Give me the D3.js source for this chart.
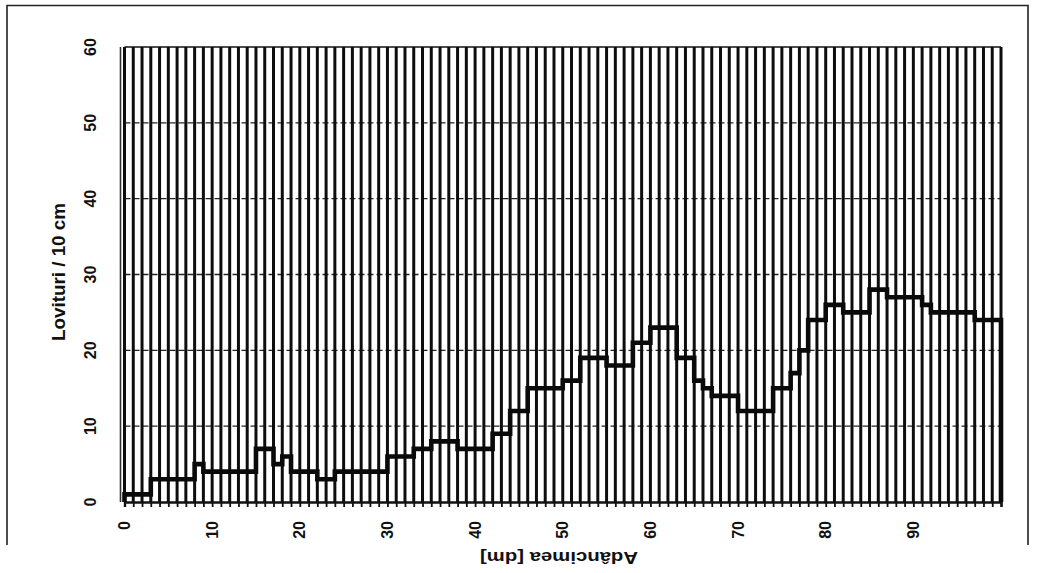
<!DOCTYPE html>
<html>
<head>
<meta charset="utf-8">
<script src="https://cdn.jsdelivr.net/npm/d3@7"></script>
<style>
  html, body { margin: 0; padding: 0; background: #fff; }
  svg { display: block; }
  text { font-family: "Liberation Sans", Arial, sans-serif; font-weight: bold; fill: #111; }
</style>
</head>
<body>
<svg id="chart" width="1037" height="573"></svg>
<script>
// Depth in dm (start of each 1-dm interval)
const depths = d3.range(0, 100);
// Blows per 10 cm for each interval
const blows = [
  1, 1, 1, 3, 3, 3, 3, 3, 5, 4,
  4, 4, 4, 4, 4, 7, 7, 5, 6, 4,
  4, 4, 3, 3, 4, 4, 4, 4, 4, 4,
  6, 6, 6, 7, 7, 8, 8, 8, 7, 7,
  7, 7, 9, 9, 12, 12, 15, 15, 15, 15,
  16, 16, 19, 19, 19, 18, 18, 18, 21, 21,
  23, 23, 23, 19, 19, 16, 15, 14, 14, 14,
  12, 12, 12, 12, 15, 15, 17, 20, 24, 24,
  26, 26, 25, 25, 25, 28, 28, 27, 27, 27,
  27, 26, 25, 25, 25, 25, 25, 24, 24, 24
];
const xTickLabels = [0, 10, 20, 30, 40, 50, 60, 70, 80, 90];
const yTickLabels = [0, 10, 20, 30, 40, 50, 60];
const xTitle = "Adâncimea [dm]";
const yTitle = "Lovituri / 10 cm";

const svg = d3.select("#chart");
const x = d3.scaleLinear().domain([0, 100]).range([124.5, 1001]);
const y = d3.scaleLinear().domain([0, 60]).range([502, 47]);

// outer frame (top, left, right)
svg.append("path")
  .attr("d", "M7,545 L7,5.5 L1028,5.5 L1028,545")
  .attr("fill", "none").attr("stroke", "#222").attr("stroke-width", 1.6);

// horizontal dashed gridlines
svg.append("g").selectAll("line")
  .data(yTickLabels.filter(v => v > 0 && v < 60))
  .join("line")
  .attr("x1", x(0)).attr("x2", x(100))
  .attr("y1", d => y(d)).attr("y2", d => y(d))
  .attr("stroke", "#222").attr("stroke-width", 1.4)
  .attr("stroke-dasharray", "6,3");

// top border of plot at 60
svg.append("line")
  .attr("x1", x(0)).attr("x2", x(100))
  .attr("y1", y(60)).attr("y2", y(60))
  .attr("stroke", "#111").attr("stroke-width", 1.6);

// vertical gridlines at every dm
svg.append("g").selectAll("line")
  .data(d3.range(0, 101))
  .join("line")
  .attr("x1", d => x(d)).attr("x2", d => x(d))
  .attr("y1", y(0)).attr("y2", y(60))
  .attr("stroke", "#0d0d0d").attr("stroke-width", 3);

// left axis (double line look)
svg.append("line")
  .attr("x1", x(0) - 4).attr("x2", x(0) - 4)
  .attr("y1", y(0)).attr("y2", y(60))
  .attr("stroke", "#333").attr("stroke-width", 1.6);

// x axis with ticks at every dm
const xAxis = d3.axisBottom(x)
  .tickValues(d3.range(0, 101))
  .tickSize(5)
  .tickFormat("");
const gx = svg.append("g").attr("transform", `translate(0,${y(0)})`).call(xAxis);
gx.select(".domain").attr("stroke", "#111").attr("stroke-width", 2.4);
gx.selectAll(".tick line").attr("stroke", "#111").attr("stroke-width", 1.8);

// step line of blows
const pts = [{d: 0, v: 0}]
  .concat(depths.map((d, i) => ({d: d, v: blows[i]})))
  .concat([{d: 100, v: blows[blows.length - 1]}, {d: 100, v: 0}]);
svg.append("path")
  .datum(pts)
  .attr("fill", "none")
  .attr("stroke", "#0a0a0a")
  .attr("stroke-width", 4.6)
  .attr("stroke-linejoin", "miter")
  .attr("d", d3.line().x(p => x(p.d)).y(p => y(p.v)).curve(d3.curveStepAfter));

// x tick labels (rotated)
svg.append("g").selectAll("text")
  .data(xTickLabels)
  .join("text")
  .attr("transform", d => `translate(${x(d)},521) rotate(-90)`)
  .attr("text-anchor", "end")
  .attr("dy", "0.35em")
  .attr("font-size", 16)
  .text(d => d);

// y tick labels (rotated)
svg.append("g").selectAll("text")
  .data(yTickLabels)
  .join("text")
  .attr("transform", d => `translate(90,${y(d)}) rotate(-90)`)
  .attr("text-anchor", "middle")
  .attr("dy", "0.35em")
  .attr("font-size", 16)
  .text(d => d);

// y title
svg.append("text")
  .attr("transform", "translate(59,272) rotate(-90)")
  .attr("text-anchor", "middle")
  .attr("dy", "0.35em")
  .attr("font-size", 18)
  .attr("textLength", 138)
  .attr("lengthAdjust", "spacingAndGlyphs")
  .text(yTitle);

// x title (upside down)
svg.append("text")
  .attr("transform", "translate(559,558) rotate(180)")
  .attr("text-anchor", "middle")
  .attr("dy", "0.35em")
  .attr("font-size", 17)
  .attr("textLength", 158)
  .attr("lengthAdjust", "spacingAndGlyphs")
  .text(xTitle);
</script>
</body>
</html>
